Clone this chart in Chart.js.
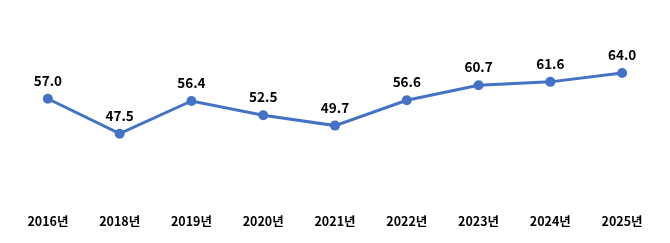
<!DOCTYPE html>
<html>
<head>
<meta charset="utf-8">
<script src="https://cdn.jsdelivr.net/npm/chart.js@4"></script>
<style>
  html, body { margin: 0; padding: 0; background: #ffffff; }
  #wrap { width: 670px; height: 243px; }
</style>
</head>
<body>
<div id="wrap"><canvas id="my_Chart" width="670" height="243"></canvas></div>
<script>
// Data
var years = ["2016년", "2018년", "2019년", "2020년", "2021년", "2022년", "2023년", "2024년", "2025년"];
var values = [57.0, 47.5, 56.4, 52.5, 49.7, 56.6, 60.7, 61.6, 64.0];

var lineColor = '#4472C4';
var fontFamily = "'Noto Sans CJK KR', 'Noto Sans', sans-serif";

// Small plugin to write the value above each point
var valueLabels = {
    id: 'valueLabels',
    afterDatasetsDraw: function (chart) {
        var ctx = chart.ctx;
        var meta = chart.getDatasetMeta(0);
        ctx.save();
        ctx.font = 'bold 13.5px ' + fontFamily;
        ctx.fillStyle = '#000000';
        ctx.textAlign = 'center';
        ctx.textBaseline = 'middle';
        meta.data.forEach(function (pt, i) {
            ctx.fillText(values[i].toFixed(1), pt.x, pt.y - 18);
        });
        ctx.restore();
    }
};

var ctx = document.getElementById('my_Chart').getContext('2d');
var myChart = new Chart(ctx, {
    type: 'line',
    data: {
        labels: years,
        datasets: [{
            data: values,
            borderColor: lineColor,
            backgroundColor: lineColor,
            borderWidth: 3,
            pointRadius: 5,
            pointBorderWidth: 0,
            pointBackgroundColor: lineColor,
            tension: 0,
            fill: false
        }]
    },
    options: {
        responsive: false,
        animation: false,
        layout: { padding: { top: 51, bottom: -2, left: 12, right: 12 } },
        plugins: {
            legend: { display: false },
            tooltip: { enabled: false }
        },
        scales: {
            x: {
                offset: true,
                grid: { display: false, drawTicks: false },
                border: { display: false },
                ticks: {
                    padding: 16,
                    color: '#000000',
                    font: { family: fontFamily, size: 12.5, weight: 'bold' }
                }
            },
            y: {
                display: false,
                min: 30,
                max: 70
            }
        }
    },
    plugins: [valueLabels]
});
</script>
</body>
</html>
